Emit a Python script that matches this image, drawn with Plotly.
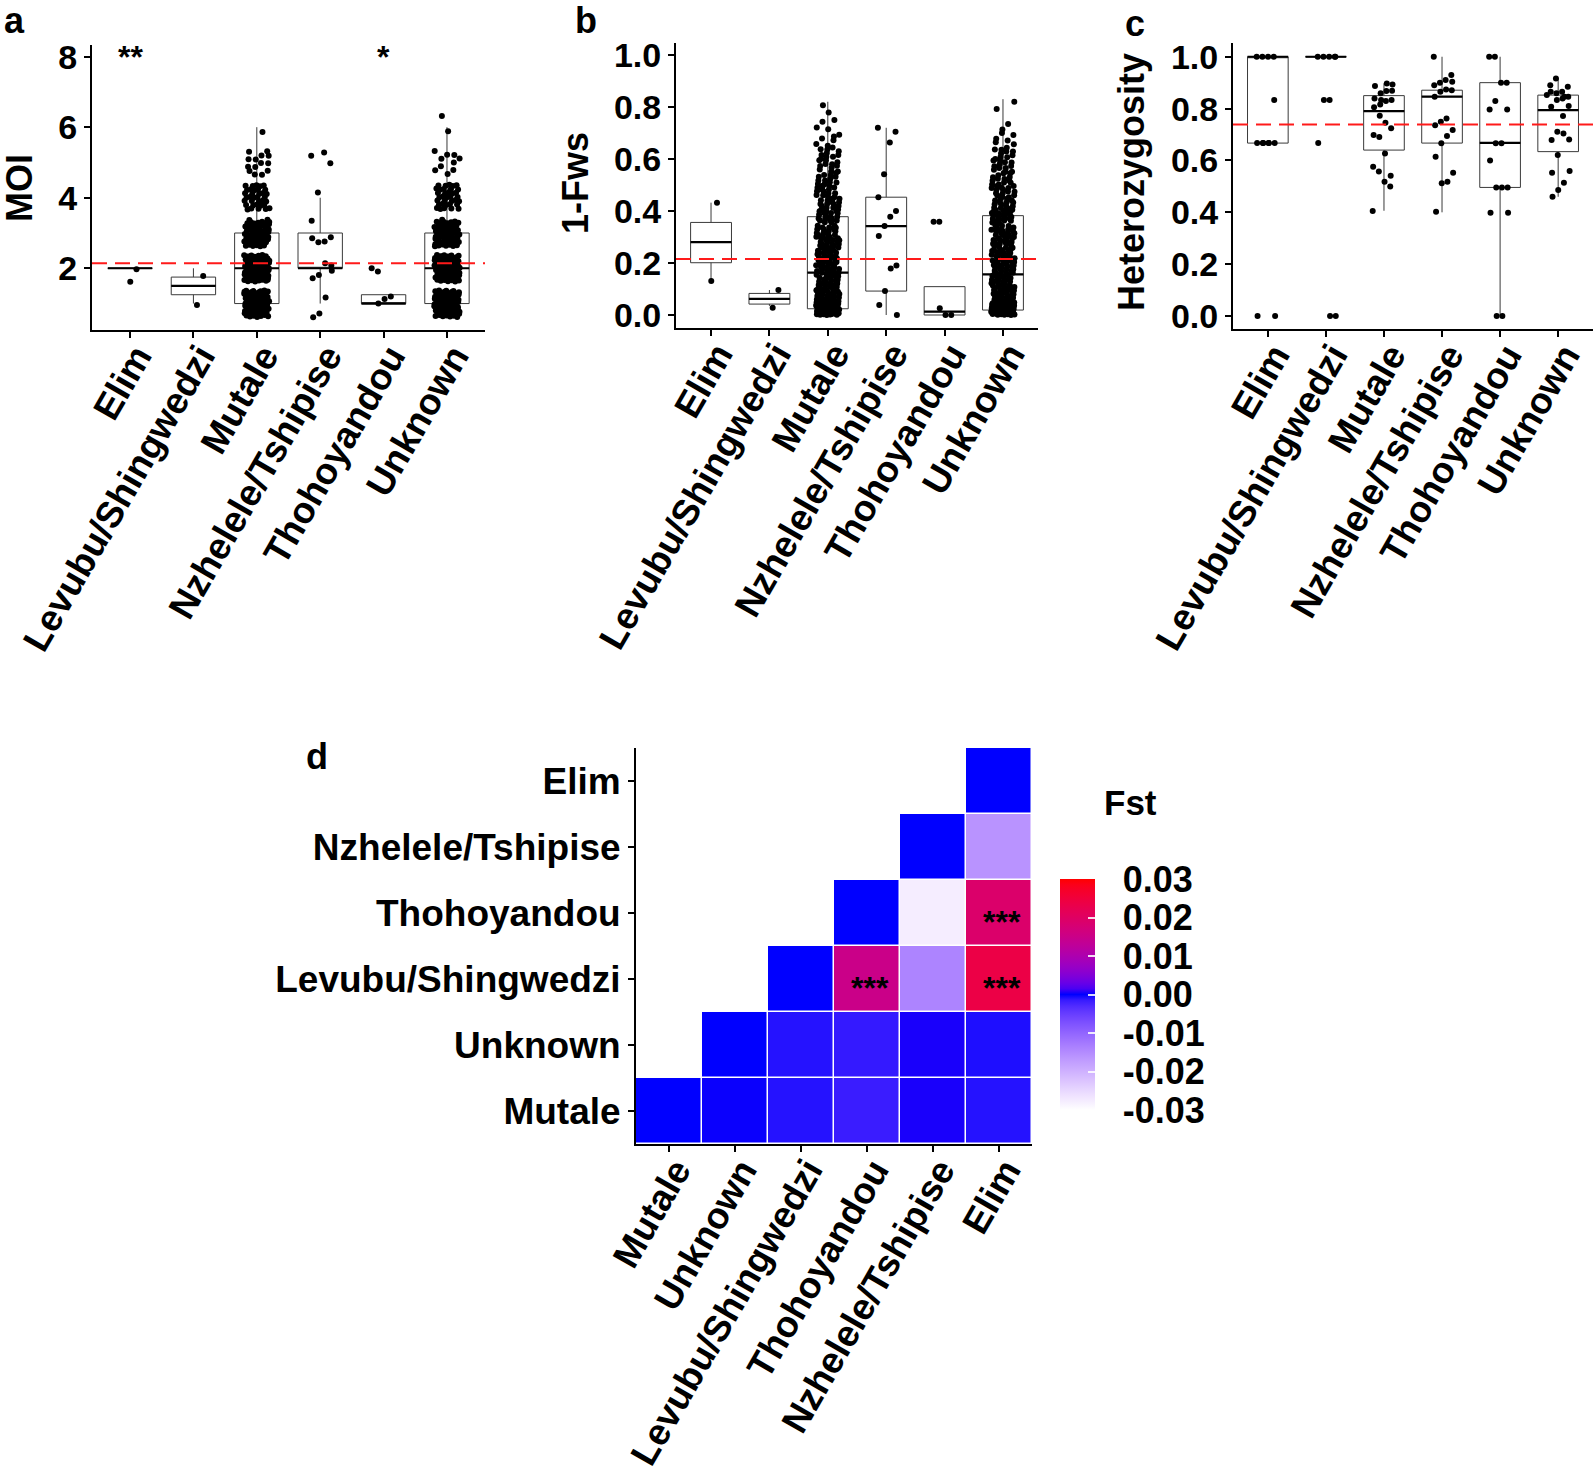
import plotly.graph_objects as go

W, H = 1593, 1478
FONT = "Liberation Sans, Arial, sans-serif"

# ---------------- data ----------------
groups = ["Elim", "Levubu/Shingwedzi", "Mutale", "Nzhelele/Tshipise", "Thohoyandou", "Unknown"]

# Panel a : MOI
moi_q1 = [2, 1.25, 1, 2, 1, 1]
moi_median = [2, 1.5, 2, 2, 1, 2]
moi_q3 = [2, 1.75, 3, 3, 1.25, 3]
moi_lower = [2, 1, 1, 1, 1, 1]
moi_upper = [2, 2, 6, 4, 1.25, 6]
moi_mean = 2.14
moi_signif = ["**", "", "", "", "*", ""]
moi_pts_elim = [1.97, 1.62]
moi_pts_levubu = [1.78, 0.96]
moi_pts_nzhelele = [5.19, 4.98, 5.28, 4.15, 3.35, 2.88, 2.76, 2.74, 2.85, 2.08, 2.14, 1.81, 1.72, 1.93, 1.17, 0.72, 0.61]
moi_pts_thohoyandou = [1.91, 2.0, 1.2, 1.13, 1.0]
moi_levels = [1, 2, 3, 4, 5, 6]
moi_counts_mutale = [90, 100, 60, 35, 14, 1]
moi_counts_unknown = [85, 95, 60, 35, 10, 2]

# Panel b : 1-Fws
fws_q1 = [0.201, 0.042, 0.024, 0.092, 0.0, 0.019]
fws_median = [0.28, 0.062, 0.163, 0.342, 0.013, 0.156]
fws_q3 = [0.356, 0.083, 0.378, 0.453, 0.109, 0.382]
fws_lower = [0.135, 0.035, 0.0, 0.0, 0.0, 0.0]
fws_upper = [0.432, 0.096, 0.82, 0.72, 0.109, 0.83]
fws_mean = 0.215
fws_pts_elim = [0.432, 0.131]
fws_pts_levubu = [0.096, 0.028]
fws_pts_nzhelele = [0.72, 0.705, 0.663, 0.541, 0.453, 0.40, 0.378, 0.342, 0.304, 0.19, 0.179, 0.092, 0.038, 0.0]
fws_pts_thohoyandou = [0.359, 0.359, 0.0, 0.0, 0.026]
fws_bin_lo = [0.0, 0.05, 0.10, 0.15, 0.20, 0.25, 0.30, 0.35, 0.40, 0.45, 0.50, 0.55, 0.60, 0.65, 0.70, 0.75, 0.80]
fws_counts_mutale = [85, 30, 25, 22, 22, 20, 18, 18, 15, 14, 12, 11, 10, 6, 3, 2, 1]
fws_counts_unknown = [90, 30, 24, 22, 22, 20, 20, 20, 17, 15, 13, 12, 10, 6, 2, 1, 1]

# Panel c : Heterozygosity
het_q1 = [0.667, 1.0, 0.64, 0.667, 0.496, 0.634]
het_median = [1.0, 1.0, 0.79, 0.846, 0.668, 0.794]
het_q3 = [1.0, 1.0, 0.85, 0.871, 0.90, 0.852]
het_lower = [0.667, 1.0, 0.406, 0.40, 0.0, 0.46]
het_upper = [1.0, 1.0, 0.897, 1.0, 1.0, 0.916]
het_mean = 0.739
het_pts_elim = [1.0, 1.0, 1.0, 1.0, 0.833, 0.667, 0.667, 0.667, 0.667, 0.667, 0.667, 0.0, 0.0]
het_pts_levubu = [1.0, 1.0, 1.0, 1.0, 1.0, 0.833, 0.833, 0.667, 0.0, 0.0]
het_pts_mutale = [0.405, 0.5, 0.518, 0.557, 0.576, 0.541, 0.627, 0.69, 0.698, 0.724, 0.745, 0.772,
                  0.805, 0.833, 0.829, 0.816, 0.839, 0.869, 0.868, 0.859, 0.887, 0.893, 0.897, 0.833]
het_pts_nzhelele = [1.0, 0.93, 0.91, 0.90, 0.89, 0.871, 0.874, 0.865, 0.846, 0.904, 0.762, 0.749,
                    0.736, 0.717, 0.694, 0.666, 0.614, 0.553, 0.518, 0.512, 0.402]
het_pts_thohoyandou = [1.0, 1.0, 0.9, 0.9, 0.829, 0.797, 0.797, 0.666, 0.666, 0.6, 0.496, 0.496,
                       0.496, 0.398, 0.398, 0.0, 0.0]
het_pts_unknown = [0.916, 0.89, 0.884, 0.865, 0.859, 0.865, 0.846, 0.839, 0.833, 0.807, 0.81, 0.771,
                   0.711, 0.679, 0.681, 0.704, 0.621, 0.553, 0.559, 0.514, 0.486, 0.46, 0.852, 0.846]

# Panel d : pairwise Fst
fst_cats = ["Mutale", "Unknown", "Levubu/Shingwedzi", "Thohoyandou", "Nzhelele/Tshipise", "Elim"]
fst_row_mutale = [0.0, 0.0002, -0.0010, -0.0016, 0.0005, -0.0010]
fst_row_unknown = [None, 0.0, -0.0010, -0.0014, 0.0005, -0.0008]
fst_row_levubu = [None, None, 0.0, 0.0150, -0.0140, 0.0237]
fst_row_thohoyandou = [None, None, None, 0.0, -0.0278, 0.0190]
fst_row_nzhelele = [None, None, None, None, 0.0, -0.0160]
fst_row_elim = [None, None, None, None, None, 0.0]
fst_signif_x = ["Thohoyandou", "Elim", "Elim"]
fst_signif_y = ["Levubu/Shingwedzi", "Thohoyandou", "Levubu/Shingwedzi"]
fst_ticks = [0.03, 0.02, 0.01, 0.0, -0.01, -0.02, -0.03]
fst_ticktext = ["0.03", "0.02", "0.01", "0.00", "-0.01", "-0.02", "-0.03"]


# ---------------- helpers ----------------
def frac(v):
    return v - int(v)


A1, A2 = 0.7548776662, 0.5698402910   # low-discrepancy jitter sequence
JW = 0.2


def jitter_x(center, n, seed=0.0):
    return [center + JW * (2 * frac((k + 1) * A1 + seed) - 1) for k in range(n)]


def expand_levels(levels, counts, half):
    ys = []
    k = 0
    for lv, c in zip(levels, counts):
        for _ in range(c):
            k += 1
            ys.append(lv + half * (2 * frac(k * A2 + 0.37) - 1))
    return ys


def expand_bins(lo, counts, width):
    ys = []
    k = 0
    for b, c in zip(lo, counts):
        for _ in range(c):
            k += 1
            ys.append(b + width * frac(k * A2 + 0.21))
    return ys


def srgb_to_lin(c):
    c = c / 255.0
    return c / 12.92 if c <= 0.04045 else ((c + 0.055) / 1.055) ** 2.4


def lin_to_srgb(c):
    c = 12.92 * c if c <= 0.0031308 else 1.055 * (c ** (1 / 2.4)) - 0.055
    return max(0, min(255, round(c * 255)))


XN, YN, ZN = 0.95047, 1.0, 1.08883


def rgb_to_lab(rgb):
    r, g, b = [srgb_to_lin(v) for v in rgb]
    X = 0.4124 * r + 0.3576 * g + 0.1805 * b
    Y = 0.2126 * r + 0.7152 * g + 0.0722 * b
    Z = 0.0193 * r + 0.1192 * g + 0.9505 * b

    def f(t):
        return t ** (1 / 3) if t > 0.008856 else 7.787 * t + 16 / 116

    fx, fy, fz = f(X / XN), f(Y / YN), f(Z / ZN)
    return (116 * fy - 16, 500 * (fx - fy), 200 * (fy - fz))


def lab_to_rgb(lab):
    L, a, b = lab
    fy = (L + 16) / 116
    fx = fy + a / 500
    fz = fy - b / 200

    def finv(t):
        return t ** 3 if t ** 3 > 0.008856 else (t - 16 / 116) / 7.787

    X, Y, Z = XN * finv(fx), YN * finv(fy), ZN * finv(fz)
    r = 3.2406 * X - 1.5372 * Y - 0.4986 * Z
    g = -0.9689 * X + 1.8758 * Y + 0.0415 * Z
    bb = 0.0557 * X - 0.2040 * Y + 1.0570 * Z
    return tuple(lin_to_srgb(max(0.0, v)) for v in (r, g, bb))


def lab_scale(c_low, c_mid, c_high, n=40):
    l0, l1, l2 = rgb_to_lab(c_low), rgb_to_lab(c_mid), rgb_to_lab(c_high)
    out = []
    for i in range(n + 1):
        t = i / n
        if t <= 0.5:
            s = t / 0.5
            lab = tuple(p + (q - p) * s for p, q in zip(l0, l1))
        else:
            s = (t - 0.5) / 0.5
            lab = tuple(p + (q - p) * s for p, q in zip(l1, l2))
        r, g, b = lab_to_rgb(lab)
        out.append([t, f"rgb({r},{g},{b})"])
    return out


def xdom(a, b):
    return [a / W, b / W]


def ydom(top, bottom):
    return [1 - bottom / H, 1 - top / H]


# ---------------- figure ----------------
fig = go.Figure()
idx = list(range(len(groups)))

panels = [
    dict(xa="x", ya="y", q1=moi_q1, med=moi_median, q3=moi_q3, lo=moi_lower, hi=moi_upper,
         pts={0: moi_pts_elim, 1: moi_pts_levubu, 3: moi_pts_nzhelele, 4: moi_pts_thohoyandou,
              2: expand_levels(moi_levels, moi_counts_mutale, 0.38),
              5: expand_levels(moi_levels, moi_counts_unknown, 0.38)}),
    dict(xa="x2", ya="y2", q1=fws_q1, med=fws_median, q3=fws_q3, lo=fws_lower, hi=fws_upper,
         pts={0: fws_pts_elim, 1: fws_pts_levubu, 3: fws_pts_nzhelele, 4: fws_pts_thohoyandou,
              2: expand_bins(fws_bin_lo, fws_counts_mutale, 0.05),
              5: expand_bins(fws_bin_lo, fws_counts_unknown, 0.05)}),
    dict(xa="x3", ya="y3", q1=het_q1, med=het_median, q3=het_q3, lo=het_lower, hi=het_upper,
         pts={0: het_pts_elim, 1: het_pts_levubu, 2: het_pts_mutale, 3: het_pts_nzhelele,
              4: het_pts_thohoyandou, 5: het_pts_unknown}),
]

for p in panels:
    fig.add_trace(go.Box(
        x=idx, q1=p["q1"], median=p["med"], q3=p["q3"], lowerfence=p["lo"], upperfence=p["hi"],
        width=0.7, whiskerwidth=0, boxpoints=False, orientation="v",
        line=dict(color="#3a3a3a", width=1), fillcolor="rgba(255,255,255,0)",
        xaxis=p["xa"], yaxis=p["ya"], hoverinfo="skip"))
    mx, my = [], []
    for i, m in zip(idx, p["med"]):
        mx += [i - 0.35, i + 0.35, None]
        my += [m, m, None]
    fig.add_trace(go.Scatter(x=mx, y=my, mode="lines", line=dict(color="black", width=2.2),
                             xaxis=p["xa"], yaxis=p["ya"], hoverinfo="skip"))
    px_, py_ = [], []
    for i in idx:
        ys = p["pts"][i]
        px_ += jitter_x(i, len(ys), seed=0.13 * i)
        py_ += ys
    fig.add_trace(go.Scatter(x=px_, y=py_, mode="markers",
                             marker=dict(color="black", size=6, line=dict(width=0)),
                             xaxis=p["xa"], yaxis=p["ya"], hoverinfo="skip"))

# heatmap
NB = "\u00a0\u00a0"
fst_z = [fst_row_mutale, fst_row_unknown, fst_row_levubu, fst_row_thohoyandou, fst_row_nzhelele, fst_row_elim]
fig.add_trace(go.Heatmap(
    z=fst_z, x=fst_cats, y=fst_cats, xaxis="x4", yaxis="y4",
    colorscale=lab_scale((255, 255, 255), (0, 0, 255), (255, 0, 0)),
    zmin=-0.03, zmax=0.03, xgap=1.5, ygap=1.5, hoverinfo="skip",
    colorbar=dict(x=1060 / W, xanchor="left", y=1 - 879 / H, yanchor="top",
                  len=231, lenmode="pixels", thickness=35, thicknessmode="pixels",
                  xpad=0, ypad=0, outlinewidth=0,
                  tickvals=fst_ticks, ticktext=[NB + t for t in fst_ticktext],
                  ticks="inside", ticklen=7, tickwidth=1.5, tickcolor="rgba(255,255,255,0.85)",
                  tickfont=dict(family=FONT, size=36, color="black", weight="bold"))))

# ---------------- axes ----------------
def base_axis():
    return dict(showline=True, linecolor="black", linewidth=2, ticks="outside", ticklen=6,
                tickwidth=2, tickcolor="black", showgrid=False, zeroline=False, mirror=False,
                automargin=False,
                tickfont=dict(family=FONT, size=34, color="black", weight="bold"))


XT_FONT = dict(family=FONT, size=37, color="black", weight="bold")


def box_xaxis(dom, anchor):
    d = base_axis()
    d.update(domain=dom, anchor=anchor, range=[-0.6, 5.6], tickvals=idx, ticktext=groups,
             tickangle=-60, tickfont=XT_FONT, ticklabelstandoff=-18, ticklabelshift=7)
    return d


xa1 = box_xaxis(xdom(92, 485), "y")
xa2 = box_xaxis(xdom(676, 1038), "y2")
xa3 = box_xaxis(xdom(1233, 1593), "y3")

ya1 = base_axis()
ya1.update(domain=ydom(45, 330), anchor="x", range=[0.25, 8.33], tickvals=[2, 4, 6, 8])
ya2 = base_axis()
ya2.update(domain=ydom(43, 328), anchor="x2", range=[-0.05, 1.046],
           tickvals=[0, 0.2, 0.4, 0.6, 0.8, 1.0], tickformat=".1f")
ya3 = base_axis()
ya3.update(domain=ydom(43, 329), anchor="x3", range=[-0.05, 1.053],
           tickvals=[0, 0.2, 0.4, 0.6, 0.8, 1.0], tickformat=".1f")

xa4 = base_axis()
xa4.update(domain=xdom(636, 1032), anchor="y4", type="category", categoryorder="array",
           categoryarray=fst_cats, tickangle=-60, range=[-0.5, 5.5],
           tickfont=XT_FONT, ticklabelstandoff=-18, ticklabelshift=7)
ya4 = base_axis()
ya4.update(domain=ydom(748, 1144), anchor="x4", type="category", categoryorder="array",
           categoryarray=fst_cats, range=[-0.5, 5.5], tickfont=XT_FONT)

# ---------------- annotations & shapes ----------------
ann = []


def label(text, x, y, size, angle=0, bold=True):
    ann.append(dict(text=text, x=x / W, y=1 - y / H, xref="paper", yref="paper",
                    showarrow=False, textangle=angle, xanchor="center", yanchor="middle",
                    font=dict(family=FONT, size=size, color="black",
                              weight="bold" if bold else "normal")))


label("a", 14, 21, 36)
label("b", 586, 21, 36)
label("c", 1135, 23, 36)
label("d", 317, 756, 36)
label("MOI", 20, 188, 36, angle=-90)
label("1-Fws", 576, 183, 36, angle=-90)
label("Heterozygosity", 1131, 182, 36, angle=-90)
label("Fst", 1130, 802, 35)

for i, s in zip(idx, moi_signif):
    if s:
        ann.append(dict(text=s, x=i, y=8, xref="x", yref="y", showarrow=False,
                        yshift=0, font=dict(family=FONT, size=32, color="black", weight="bold")))

for sx, sy in zip(fst_signif_x, fst_signif_y):
    ann.append(dict(text="***", x=sx, y=sy, xref="x4", yref="y4", showarrow=False,
                    xshift=3, yshift=-9,
                    font=dict(family=FONT, size=32, color="black", weight="bold")))

shapes = []
for xr, yr, val in [("x", "y", moi_mean), ("x2", "y2", fws_mean), ("x3", "y3", het_mean)]:
    shapes.append(dict(type="line", xref=f"{xr} domain", yref=yr, x0=0, x1=1, y0=val, y1=val,
                       line=dict(color="#ff1a1a", width=2, dash="15px,8px")))

fig.update_layout(
    width=W, height=H, margin=dict(l=0, r=0, t=0, b=0, autoexpand=False),
    paper_bgcolor="white", plot_bgcolor="white", showlegend=False,
    font=dict(family=FONT, color="black"),
    xaxis=xa1, yaxis=ya1, xaxis2=xa2, yaxis2=ya2, xaxis3=xa3, yaxis3=ya3,
    xaxis4=xa4, yaxis4=ya4, annotations=ann, shapes=shapes,
)

fig.write_html("out.html", config={"displayModeBar": False},
               post_script="document.body.style.margin='0px';document.body.style.overflow='hidden';")
